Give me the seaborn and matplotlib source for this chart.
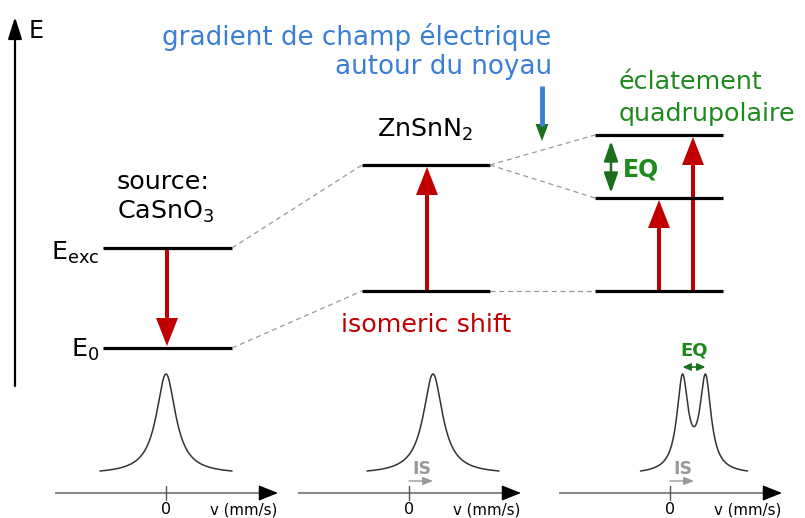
import numpy as np
import matplotlib
matplotlib.use('Agg')
import matplotlib.pyplot as plt
import seaborn as sns

# energy levels, arbitrary units (source ground state = 0)
source_levels = [0.0, 1.0]
znsnn2_levels = [0.57, 1.83]
split_levels = [0.57, 1.50, 2.13]

# Mossbauer lines, mm/s
IS = 0.48
EQ = 0.46
source_peaks = [0.0]
znsnn2_peaks = [IS]
split_peaks = [IS - EQ / 2, IS + EQ / 2]
line_widths = [0.235, 0.235, 0.135]    # half width of each lorentzian
spans = [1.32, 1.32, 1.07]             # how far the drawn curve goes on each side

RED = '#c00000'
GREEN = '#1e8a1e'
DKGREEN = '#1b6e1b'
BLUE = '#3a7fd5'
GREY = '#999999'

sns.set_theme(style='white')
plt.rcParams['font.family'] = ['DejaVu Sans']
plt.rcParams['mathtext.fontset'] = 'dejavusans'

fig = plt.figure(figsize=(8.05, 5.18), dpi=100)
ax = fig.add_axes([0, 0, 1, 1])
ax.set_xlim(0, 805)
ax.set_ylim(518, 0)
ax.axis('off')


def ypx(e):
    return 348 - 100 * e


# energy levels
columns = [(103, 232), (362, 490), (595, 723)]
for (x0, x1), levels in zip(columns, [source_levels, znsnn2_levels, split_levels]):
    ax.hlines([ypx(e) for e in levels], x0, x1, color='black', lw=2.3)

# dashed connectors
dash = dict(color=GREY, lw=0.9, ls=(0, (4, 3)))
ax.plot([232, 362], [ypx(source_levels[1]), ypx(znsnn2_levels[1])], **dash)
ax.plot([232, 362], [ypx(source_levels[0]), ypx(znsnn2_levels[0])], **dash)
ax.plot([490, 595], [ypx(znsnn2_levels[1]), ypx(split_levels[2])], **dash)
ax.plot([490, 595], [ypx(znsnn2_levels[1]), ypx(split_levels[1])], **dash)
ax.plot([490, 595], [ypx(znsnn2_levels[0]), ypx(split_levels[0])], **dash)

# red transitions
red_arrow = dict(width=4, head_width=22, head_length=28, length_includes_head=True,
                 color=RED, lw=0)
ax.arrow(167, ypx(source_levels[1]) + 1, 0, ypx(source_levels[0]) - ypx(source_levels[1]) - 3, **red_arrow)
ax.arrow(427, ypx(znsnn2_levels[0]), 0, ypx(znsnn2_levels[1]) - ypx(znsnn2_levels[0]) + 2, **red_arrow)
ax.arrow(659, ypx(split_levels[0]), 0, ypx(split_levels[1]) - ypx(split_levels[0]) + 2, **red_arrow)
ax.arrow(693, ypx(split_levels[0]), 0, ypx(split_levels[2]) - ypx(split_levels[0]) + 2, **red_arrow)

# energy axis
ax.annotate('', xy=(15, 17), xytext=(15, 386),
            arrowprops=dict(arrowstyle='-|>,head_length=1.1,head_width=0.35',
                            lw=1.6, color='black', shrinkA=0, shrinkB=0))
ax.text(29, 31, 'E', fontsize=17, va='center', ha='left', color='black')

# texts of the diagram
big = 18.3
ax.text(551, 37, 'gradient de champ électrique', color=BLUE, fontsize=18.8, ha='right', va='center')
ax.text(552, 67, 'autour du noyau', color=BLUE, fontsize=18.8, ha='right', va='center')
ax.text(425, 130, r'ZnSnN$_2$', fontsize=big, ha='center', va='center', color='black')
ax.text(163, 182, 'source:', fontsize=big, ha='center', va='center', color='black')
ax.text(166, 212, r'CaSnO$_3$', fontsize=big, ha='center', va='center', color='black')
ax.text(99, 253, r'E$_{\mathrm{exc}}$', fontsize=big, ha='right', va='center', color='black')
ax.text(99, 350, r'E$_0$', fontsize=big, ha='right', va='center', color='black')
ax.text(619, 82, 'éclatement', color=GREEN, fontsize=big, ha='left', va='center')
ax.text(619, 114, 'quadrupolaire', color=GREEN, fontsize=big, ha='left', va='center')
ax.text(623, 169, 'EQ', color=GREEN, fontsize=17, fontweight='bold', ha='left', va='center')
ax.text(426, 325, 'isomeric shift', color=RED, fontsize=big, ha='center', va='center')

# blue field gradient arrow with green head
ax.plot([542, 542], [86, 126], color=BLUE, lw=3.5, solid_capstyle='butt')
ax.arrow(542, 124, 0, 17, width=0, head_width=13, head_length=17,
         length_includes_head=True, color=DKGREEN, lw=0)

# EQ splitting arrow
ax.annotate('', xy=(611, 141), xytext=(611, 193),
            arrowprops=dict(arrowstyle='<|-|>,head_length=1.0,head_width=0.35',
                            lw=1.8, color=DKGREEN, shrinkA=0, shrinkB=0))

# spectra
x_lo, x_hi = -2.22, 2.24
y_lo, y_hi = -0.4845, 1.3505
axis_y = -22 / 97
panel_left = [55, 298, 559]
peak_sets = [source_peaks, znsnn2_peaks, split_peaks]
for i, (left, peaks, gamma, span) in enumerate(zip(panel_left, peak_sets, line_widths, spans)):
    axs = fig.add_axes([left / 805, 0, 223 / 805, 178 / 518])
    centre = np.mean(peaks)
    v = np.linspace(centre - span, centre + span, 500)
    inten = sum(gamma ** 2 / ((v - p) ** 2 + gamma ** 2) for p in peaks)
    inten = (inten - inten.min()) / (inten.max() - inten.min())
    sns.lineplot(x=v, y=inten, ax=axs, color='#333333', lw=1.1)
    axs.set_xlim(x_lo, x_hi)
    axs.set_ylim(y_lo, y_hi)
    axs.axis('off')

    # velocity axis
    axs.plot([x_lo, x_hi - 0.2], [axis_y, axis_y], color='#8a8a8a', lw=1.5)
    axs.annotate('', xy=(x_hi, axis_y), xytext=(x_hi - 0.25, axis_y),
                 arrowprops=dict(arrowstyle='-|>,head_length=1.0,head_width=0.4',
                                 lw=1, color='black', shrinkA=0, shrinkB=0))
    axs.plot([0, 0], [axis_y - 0.07, axis_y + 0.07], color='#555555', lw=1)
    axs.text(0, -0.40, '0', fontsize=11.5, ha='center', va='center', color='black')
    axs.text(1.56, -0.40, 'v (mm/s)', fontsize=10.8, ha='center', va='center', color='black')

    if i > 0:
        axs.text(IS / 2 + 0.02, 0.02, 'IS', fontsize=12.5, fontweight='bold',
                 color=GREY, ha='center', va='center')
        axs.annotate('', xy=(IS, -0.103), xytext=(0, -0.103),
                     arrowprops=dict(arrowstyle='-|>,head_length=0.5,head_width=0.2',
                                     lw=1, color=GREY, shrinkA=0, shrinkB=0))
    if i == 2:
        axs.text(IS, 1.24, 'EQ', fontsize=13, fontweight='bold', color=GREEN,
                 ha='center', va='center')
        axs.annotate('', xy=(split_peaks[1], 1.072), xytext=(split_peaks[0], 1.072),
                     arrowprops=dict(arrowstyle='<|-|>,head_length=0.4,head_width=0.18',
                                     lw=1.2, color=DKGREEN, shrinkA=0, shrinkB=0))

fig.savefig('out.png', dpi=100)
